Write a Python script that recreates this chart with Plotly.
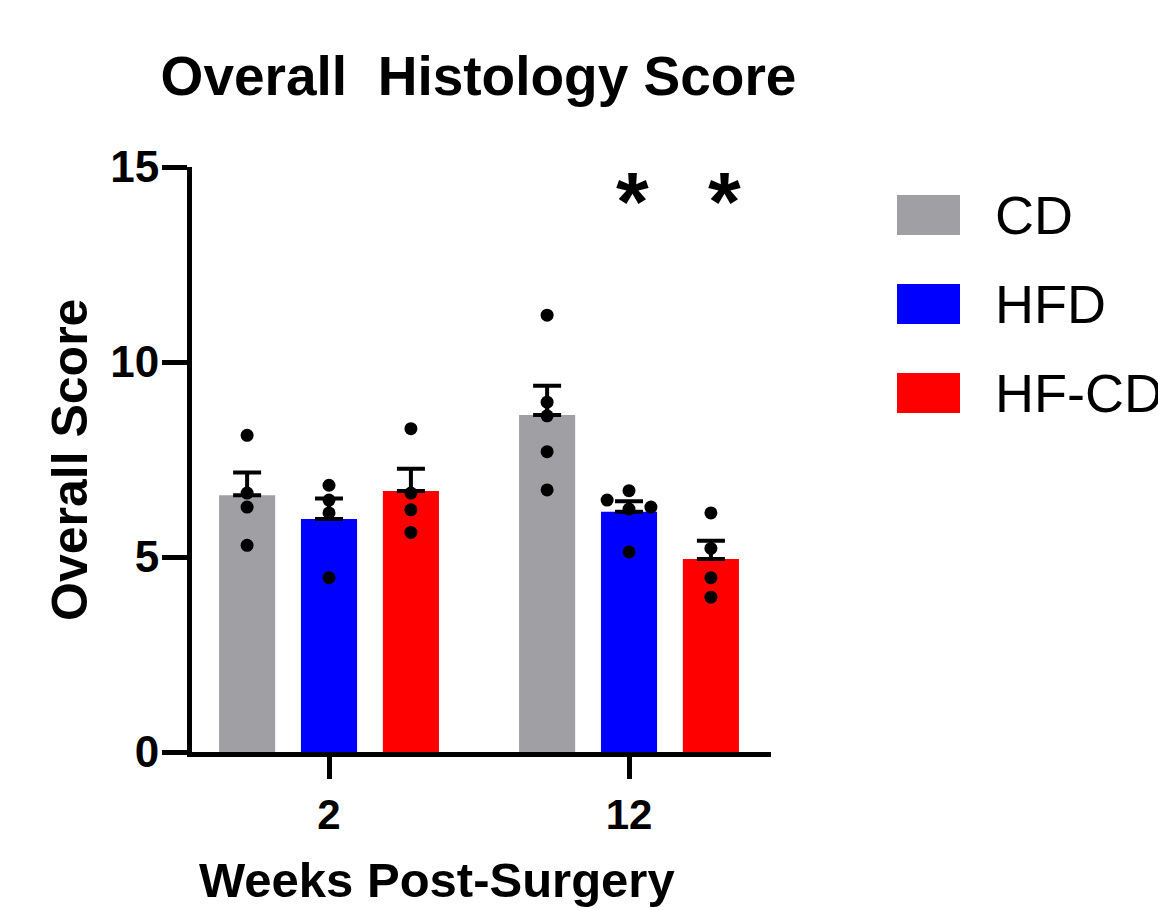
import numpy as np
import plotly.graph_objects as go

# Weeks after surgery (x categories) and diet groups
weeks = ["2", "12"]
groups = ["CD", "HFD", "HF-CD"]
colors = ["#A09FA4", "#0000FF", "#FF0000"]

# Individual animal scores, per group, per week
cd_scores = [[8.12, 6.64, 6.28, 5.30], [11.20, 8.97, 8.62, 7.70, 6.72]]
hfd_scores = [[6.84, 6.46, 6.13, 4.47], [6.70, 6.46, 6.28, 6.23, 5.13]]
hfcd_scores = [[8.29, 6.64, 6.21, 5.63], [6.13, 5.22, 4.47, 3.97]]
scores = [cd_scores, hfd_scores, hfcd_scores]

# Y axis ticks
y_ticks = [0, 5, 10, 15]

# Horizontal spread of points within a bar (axis units), per group, per week
point_spread = [
    [[0, 0, 0, 0], [0, 0, 0, 0, 0]],
    [[0, 0, 0, 0], [0, -0.073, 0.073, 0, 0]],
    [[0, 0, 0, 0], [0, 0, 0, 0]],
]

# Significance markers at week 12
sig_groups = ["HFD", "HF-CD"]
sig_text = "*"

FONT = "Liberation Sans, Arial, sans-serif"
W, H = 1158, 910
L, R, T, B = 192, 387, 167, 158
bar_offsets = [-0.273, 0.0, 0.273]
bar_width = 0.187
sig_xshift = [3, 14]

fig = go.Figure()
xs_base = np.arange(len(weeks))

for g, name in enumerate(groups):
    means = [float(np.mean(s)) for s in scores[g]]
    sems = [float(np.std(s, ddof=1) / np.sqrt(len(s))) for s in scores[g]]
    fig.add_trace(go.Bar(
        x=xs_base + bar_offsets[g], y=means, width=bar_width,
        marker=dict(color=colors[g], line=dict(width=0)),
        error_y=dict(type="data", array=sems, arrayminus=[0] * len(sems),
                     symmetric=False, color="black", thickness=4, width=14),
        name=name, showlegend=False,
    ))

for g, name in enumerate(groups):
    px_, py_ = [], []
    for w in range(len(weeks)):
        for v, dx in zip(scores[g][w], point_spread[g][w]):
            px_.append(xs_base[w] + bar_offsets[g] + dx)
            py_.append(v)
    fig.add_trace(go.Scatter(
        x=px_, y=py_, mode="markers",
        marker=dict(color="black", size=13, line=dict(width=0)),
        showlegend=False, hoverinfo="y",
    ))

# Significance asterisks above the week-12 bars
for k, name in enumerate(sig_groups):
    g = groups.index(name)
    fig.add_annotation(x=xs_base[1] + bar_offsets[g], y=14.1, text=f"<b>{sig_text}</b>",
                       showarrow=False, xref="x", yref="y", xshift=sig_xshift[k],
                       font=dict(family=FONT, size=84, color="black"))

# Pixel -> paper coordinate helpers for items placed outside the plot area
pw, ph = W - L - R, H - T - B
def to_paper_x(px):
    return (px - L) / pw
def to_paper_y(py):
    return (H - B - py) / ph

# Legend drawn as colour swatches with labels
for i, (name, c) in enumerate(zip(groups, colors)):
    yc = 215 + 89 * i
    fig.add_shape(type="rect", xref="paper", yref="paper",
                  x0=to_paper_x(897), x1=to_paper_x(960),
                  y0=to_paper_y(yc + 20), y1=to_paper_y(yc - 20),
                  fillcolor=c, line=dict(width=0))
    fig.add_annotation(x=to_paper_x(993), y=to_paper_y(yc), xref="paper", yref="paper",
                       text=name, showarrow=False, xanchor="left", yanchor="middle",
                       font=dict(family=FONT, size=54, color="black"))

# Axis titles
fig.add_annotation(x=to_paper_x(437), y=to_paper_y(880), xref="paper", yref="paper",
                   text="<b>Weeks Post-Surgery</b>", showarrow=False,
                   xanchor="center", yanchor="middle",
                   font=dict(family=FONT, size=49, color="black"))
fig.add_annotation(x=to_paper_x(70), y=to_paper_y(460), xref="paper", yref="paper",
                   text="<b>Overall Score</b>", showarrow=False, textangle=-90,
                   xanchor="center", yanchor="middle",
                   font=dict(family=FONT, size=50, color="black"))

fig.update_layout(
    width=W, height=H,
    margin=dict(l=L, r=R, t=T, b=B, autoexpand=False),
    paper_bgcolor="white", plot_bgcolor="white",
    barmode="overlay",
    font=dict(family=FONT, color="black"),
    title=dict(text="<b>Overall  Histology Score</b>", x=(157 + 800) / 2 / W, xanchor="center",
               y=1 - 76 / H, yanchor="middle", font=dict(family=FONT, size=55, color="black")),
    xaxis=dict(
        range=[-0.4567, 1.4733], tickvals=list(xs_base), ticktext=[f"<b>{w}</b>" for w in weeks],
        showline=True, linewidth=5, linecolor="black", ticks="outside", ticklen=22,
        tickwidth=5, tickcolor="black", showgrid=False, zeroline=False,
        tickfont=dict(family=FONT, size=42, color="black"),
    ),
    yaxis=dict(
        range=[0, 15], tickvals=y_ticks,
        ticktext=[f"<b>{t}</b>" for t in y_ticks],
        showline=True, linewidth=5, linecolor="black", ticks="outside", ticklen=25,
        tickwidth=5, tickcolor="black", showgrid=False, zeroline=False,
        ticklabelstandoff=-6,
        tickfont=dict(family=FONT, size=44, color="black"),
    ),
)

fig.write_html("out.html")
